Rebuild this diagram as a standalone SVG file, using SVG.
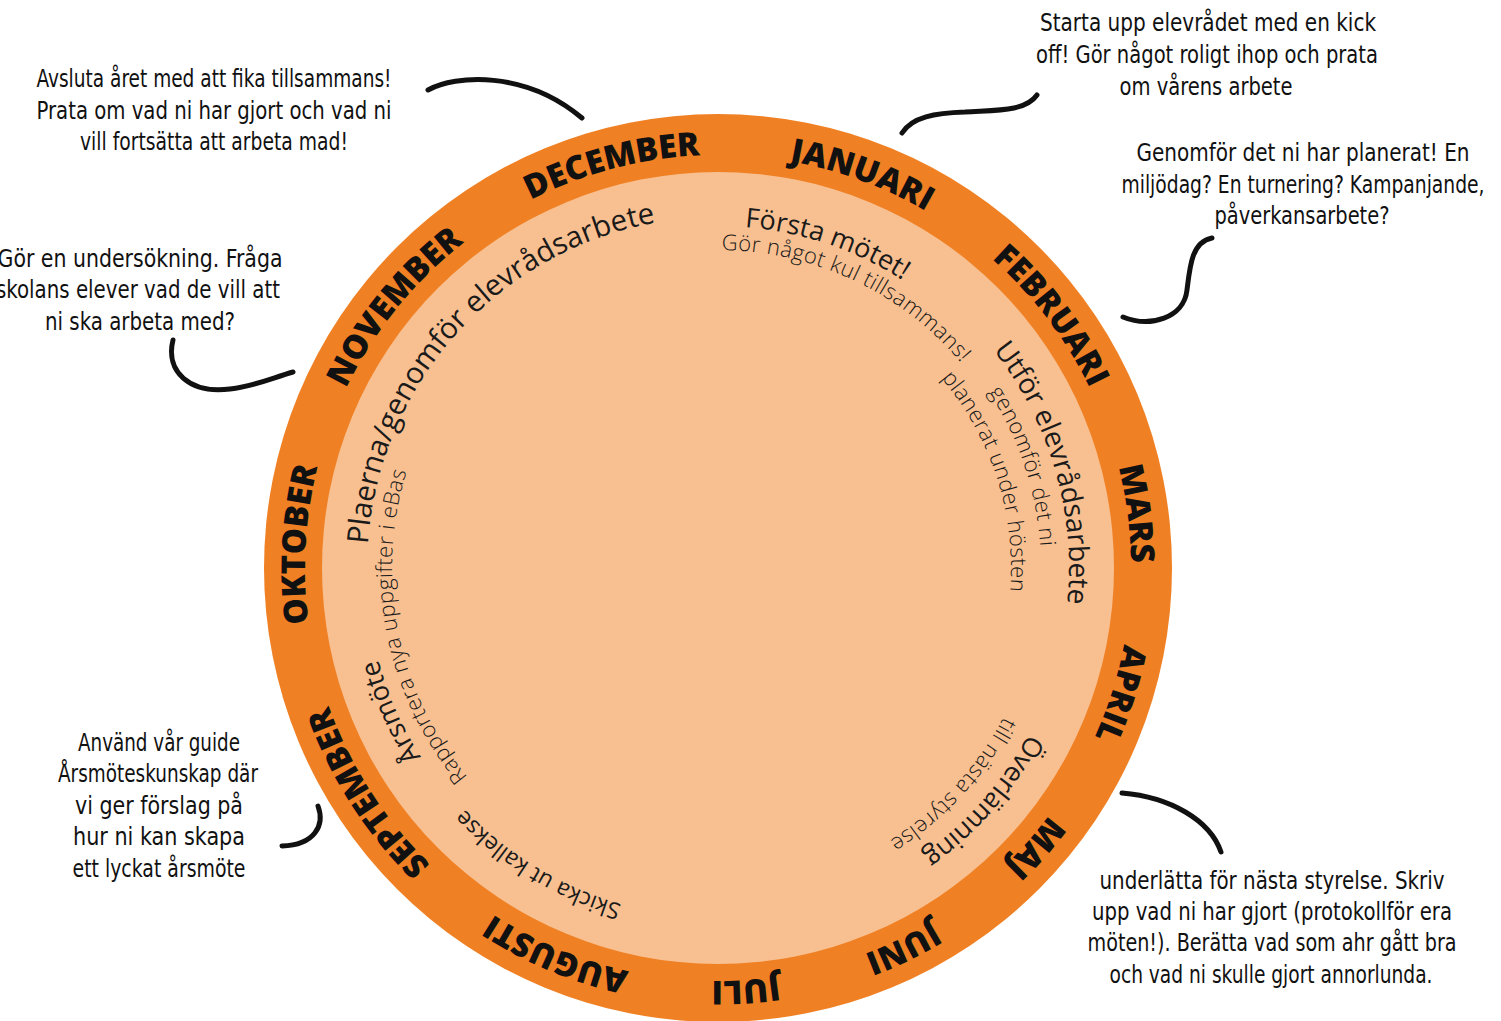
<svg xmlns="http://www.w3.org/2000/svg" xmlns:xlink="http://www.w3.org/1999/xlink" width="1501" height="1021" viewBox="0 0 1501 1021">
<style>
.month{font-family:"Open Sans","DejaVu Sans",sans-serif;font-weight:800;font-size:33px;fill:#111;}
.big{font-family:"Open Sans","DejaVu Sans",sans-serif;font-weight:400;font-size:27px;fill:#1a1a1a;}
.sub{font-family:"Open Sans","DejaVu Sans",sans-serif;font-weight:300;font-size:22px;letter-spacing:0.4px;fill:#1a1a1a;}
.note{font-family:"DejaVu Sans Condensed","Liberation Sans",sans-serif;font-size:25px;fill:#111;text-anchor:middle;}
.conn{fill:none;stroke:#111;stroke-width:5;stroke-linecap:round;}
</style>
<defs>
<path id="r413" d="M718,155 A413,413 0 1 1 718,981 A413,413 0 1 1 718,155 A413,413 0 1 1 718,981 A413,413 0 1 1 718,155"/>
<path id="r351" d="M718,217 A351,351 0 1 1 718,919 A351,351 0 1 1 718,217 A351,351 0 1 1 718,919 A351,351 0 1 1 718,217"/>
<path id="r342" d="M718,226 A342,342 0 1 1 718,910 A342,342 0 1 1 718,226 A342,342 0 1 1 718,910 A342,342 0 1 1 718,226"/>
<path id="r323" d="M718,245 A323,323 0 1 1 718,891 A323,323 0 1 1 718,245 A323,323 0 1 1 718,891 A323,323 0 1 1 718,245"/>
<path id="r318" d="M718,250 A318,318 0 1 1 718,886 A318,318 0 1 1 718,250 A318,318 0 1 1 718,886 A318,318 0 1 1 718,250"/>
<path id="r293" d="M718,275 A293,293 0 1 1 718,861 A293,293 0 1 1 718,275 A293,293 0 1 1 718,861 A293,293 0 1 1 718,275"/>
<path id="r326" d="M718,242 A326,326 0 1 1 718,894 A326,326 0 1 1 718,242 A326,326 0 1 1 718,894 A326,326 0 1 1 718,242"/>
<path id="r322" d="M718,246 A322,322 0 1 1 718,890 A322,322 0 1 1 718,246 A322,322 0 1 1 718,890 A322,322 0 1 1 718,246"/>
<path id="r352" d="M718,216 A352,352 0 1 1 718,920 A352,352 0 1 1 718,216 A352,352 0 1 1 718,920 A352,352 0 1 1 718,216"/>
<path id="r350" d="M718,218 A350,350 0 1 1 718,918 A350,350 0 1 1 718,218 A350,350 0 1 1 718,918 A350,350 0 1 1 718,218"/>
</defs>

<g id="wheel">
<circle cx="718" cy="568" r="454" fill="#F08024"/>
<circle cx="718" cy="568" r="396" fill="#F8C091"/>
</g>

<g id="months" text-anchor="middle">
<text id="m-jan" class="month"><textPath href="#r413" xlink:href="#r413" startOffset="2739">JANUARI</textPath></text>
<text id="m-feb" class="month"><textPath href="#r413" xlink:href="#r413" startOffset="2975">FEBRUARI</textPath></text>
<text id="m-mar" class="month"><textPath href="#r413" xlink:href="#r413" startOffset="3189">MARS</textPath></text>
<text id="m-apr" class="month"><textPath href="#r413" xlink:href="#r413" startOffset="3368">APRIL</textPath></text>
<text id="m-maj" class="month"><textPath href="#r413" xlink:href="#r413" startOffset="3541">MAJ</textPath></text>
<text id="m-jun" class="month"><textPath href="#r413" xlink:href="#r413" startOffset="3704">JUNI</textPath></text>
<text id="m-jul" class="month"><textPath href="#r413" xlink:href="#r413" startOffset="3864">JULI</textPath></text>
<text id="m-aug" class="month"><textPath href="#r413" xlink:href="#r413" startOffset="4055">AUGUSTI</textPath></text>
<text id="m-sep" class="month"><textPath href="#r413" xlink:href="#r413" startOffset="4304">SEPTEMBER</textPath></text>
<text id="m-okt" class="month"><textPath href="#r413" xlink:href="#r413" startOffset="4563">OKTOBER</textPath></text>
<text id="m-nov" class="month"><textPath href="#r413" xlink:href="#r413" startOffset="4820">NOVEMBER</textPath></text>
<text id="m-dec" class="month"><textPath href="#r413" xlink:href="#r413" startOffset="5082">DECEMBER</textPath></text>
</g>

<g id="activity-forsta" text-anchor="middle">
<text class="big"><textPath href="#r342" xlink:href="#r342" startOffset="2259">Första mötet!</textPath></text>
<text class="sub"><textPath href="#r318" xlink:href="#r318" startOffset="2138">Gör något kul tillsammans!</textPath></text>
</g>
<g id="activity-utfor" text-anchor="middle">
<text class="big" style="font-size:28px"><textPath href="#r351" xlink:href="#r351" startOffset="2656">Utför elevrådsarbete</textPath></text>
<text class="sub"><textPath href="#r323" xlink:href="#r323" startOffset="2432">genomför det ni</textPath></text>
<text class="sub"><textPath href="#r293" xlink:href="#r293" startOffset="2209">planerat under hösten</textPath></text>
</g>
<g id="activity-overlamning" text-anchor="middle">
<text class="big"><textPath href="#r352" xlink:href="#r352" startOffset="3017">Överlämning</textPath></text>
<text class="sub"><textPath href="#r322" xlink:href="#r322" startOffset="2768">till nästa styrelse</textPath></text>
</g>
<g id="activity-skicka" text-anchor="middle">
<text class="big" style="font-size:23px"><textPath href="#r350" xlink:href="#r350" startOffset="3488">Skicka ut kallekse</textPath></text>
</g>
<g id="activity-arsmote" text-anchor="middle">
<text class="big"><textPath href="#r352" xlink:href="#r352" startOffset="3723">Årsmöte</textPath></text>
<text class="sub"><textPath href="#r326" xlink:href="#r326" startOffset="3519">Rapportera nya uppgifter i eBas</textPath></text>
</g>
<g id="activity-planera" text-anchor="middle">
<text class="big" style="font-size:29.5px"><textPath href="#r351" xlink:href="#r351" startOffset="4114">Plaerna/genomför elevrådsarbete</textPath></text>
</g>

<g id="note-december">
<text class="note" x="214" y="87" textLength="355" lengthAdjust="spacingAndGlyphs">Avsluta året med att fika tillsammans!</text>
<text class="note" x="214" y="119" textLength="355" lengthAdjust="spacingAndGlyphs">Prata om vad ni har gjort och vad ni</text>
<text class="note" x="214" y="150" textLength="268" lengthAdjust="spacingAndGlyphs">vill fortsätta att arbeta mad!</text>
</g>
<g id="note-januari">
<text class="note" x="1208" y="31" textLength="336" lengthAdjust="spacingAndGlyphs">Starta upp elevrådet med en kick</text>
<text class="note" x="1207" y="63" textLength="342" lengthAdjust="spacingAndGlyphs">off! Gör något roligt ihop och prata</text>
<text class="note" x="1206" y="95" textLength="173" lengthAdjust="spacingAndGlyphs">om vårens arbete</text>
</g>
<g id="note-februari">
<text class="note" x="1303" y="161" textLength="333" lengthAdjust="spacingAndGlyphs">Genomför det ni har planerat! En</text>
<text class="note" x="1303" y="193" textLength="363" lengthAdjust="spacingAndGlyphs">miljödag? En turnering? Kampanjande,</text>
<text class="note" x="1302" y="224" textLength="175" lengthAdjust="spacingAndGlyphs">påverkansarbete?</text>
</g>
<g id="note-november">
<text class="note" x="140" y="267" textLength="285" lengthAdjust="spacingAndGlyphs">Gör en undersökning. Fråga</text>
<text class="note" x="138" y="298" textLength="284" lengthAdjust="spacingAndGlyphs">skolans elever vad de vill att</text>
<text class="note" x="140" y="330" textLength="190" lengthAdjust="spacingAndGlyphs">ni ska arbeta med?</text>
</g>
<g id="note-september">
<text class="note" x="159" y="751" textLength="162" lengthAdjust="spacingAndGlyphs">Använd vår guide</text>
<text class="note" x="158" y="782" textLength="200" lengthAdjust="spacingAndGlyphs">Årsmöteskunskap där</text>
<text class="note" x="159" y="814" textLength="168" lengthAdjust="spacingAndGlyphs">vi ger förslag på</text>
<text class="note" x="159" y="845" textLength="172" lengthAdjust="spacingAndGlyphs">hur ni kan skapa</text>
<text class="note" x="159" y="877" textLength="173" lengthAdjust="spacingAndGlyphs">ett lyckat årsmöte</text>
</g>
<g id="note-maj">
<text class="note" x="1272" y="889" textLength="345" lengthAdjust="spacingAndGlyphs">underlätta för nästa styrelse. Skriv</text>
<text class="note" x="1272" y="920" textLength="360" lengthAdjust="spacingAndGlyphs">upp vad ni har gjort (protokollför era</text>
<text class="note" x="1272" y="951" textLength="369" lengthAdjust="spacingAndGlyphs">möten!). Berätta vad som ahr gått bra</text>
<text class="note" x="1271" y="983" textLength="323" lengthAdjust="spacingAndGlyphs">och vad ni skulle gjort annorlunda.</text>
</g>

<g id="connectors">
<path class="conn" d="M428,90 C455,75 525,70 582,118"/>
<path class="conn" d="M1037,95 C1025,112 995,110 965,112 C935,113 912,117 902,133"/>
<path class="conn" d="M1212,238 C1192,242 1190,265 1187,290 C1184,318 1150,328 1123,317"/>
<path class="conn" d="M173,340 C165,372 190,394 230,389 C255,386 272,378 293,372"/>
<path class="conn" d="M318,806 C325,825 315,845 282,846"/>
<path class="conn" d="M1122,793 C1170,797 1210,820 1221,852"/>
</g>
</svg>
